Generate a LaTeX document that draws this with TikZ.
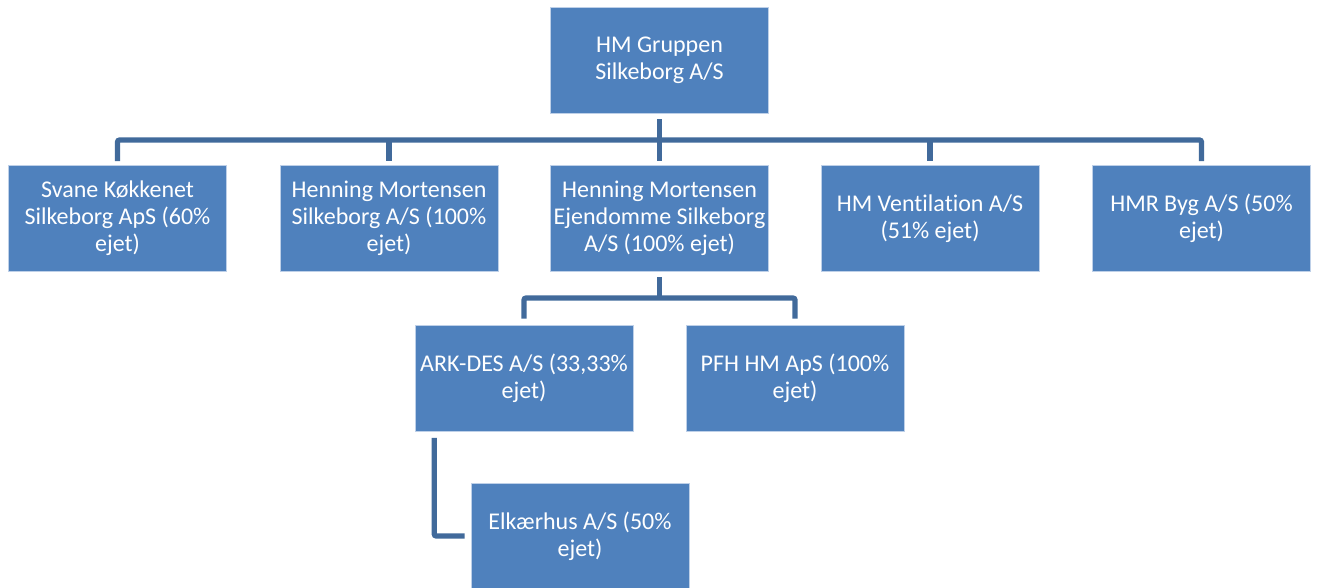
\documentclass[tikz,border=0pt]{standalone}
\usepackage{fontspec}
\setmainfont{Carlito}[Ligatures=CommonOff]
\definecolor{boxblue}{RGB}{79,129,189}
\definecolor{boxedge}{RGB}{190,208,232}
\definecolor{linkblue}{RGB}{65,106,155}
\tikzset{
  orgbox/.style={rectangle, fill=boxblue, draw=boxedge, line width=0.4pt,
    minimum width=163.5pt, minimum height=79.5pt, inner sep=0pt,
    text=white, align=center,
    font=\fontsize{18pt}{20.25pt}\selectfont},
  conn/.style={draw=linkblue, line width=3.9pt, rounded corners=1.5pt}
}
\begin{document}
\begin{tikzpicture}[x=0.75pt, y=-0.75pt]
\useasboundingbox (0,0) rectangle (1317,587);
\node[orgbox] (top) at (659.5,60) {HM Gruppen\\Silkeborg A/S};
\node[orgbox] (c1) at (117.5,218.5) {Svane Køkkenet\\Silkeborg ApS (60\%\\ejet)};
\node[orgbox] (c2) at (389,218.5) {Henning Mortensen\\Silkeborg A/S (100\%\\ejet)};
\node[orgbox] (c3) at (659.5,218.5) {Henning Mortensen\\Ejendomme Silkeborg\\A/S (100\% ejet)};
\node[orgbox] (c4) at (930,218.5) {HM Ventilation A/S\\(51\% ejet)};
\node[orgbox] (c5) at (1201.5,218.5) {HMR Byg A/S (50\%\\ejet)};
\node[orgbox] (ark) at (524,378) {ARK-DES A/S (33,33\%\\ejet)};
\node[orgbox] (pfh) at (795,378) {PFH HM ApS (100\%\\ejet)};
\node[orgbox] (elk) at (580,536) {Elkærhus A/S (50\%\\ejet)};
\coordinate (bar1) at (0,140);
\coordinate (bar2) at (0,298);
% level 1
\draw[conn] ([yshift=-4.5pt]top.south) -- ([yshift=3pt]c3.north);
\draw[conn] ([yshift=3pt]c1.north) -- (c1.north |- bar1) -- (c5.north |- bar1) -- ([yshift=3pt]c5.north);
\draw[conn] (c2.north |- bar1) -- ([yshift=3pt]c2.north);
\draw[conn] (c4.north |- bar1) -- ([yshift=3pt]c4.north);
% level 2
\draw[conn] ([yshift=-4pt]c3.south) -- (c3.south |- bar2);
\draw[conn] ([yshift=4.5pt]ark.north) -- (ark.north |- bar2) -- (pfh.north |- bar2) -- ([yshift=4.5pt]pfh.north);
% level 3
\draw[conn] ([xshift=14.6pt,yshift=-5pt]ark.south west) |- ([xshift=-4.5pt]elk.west);
\end{tikzpicture}
\end{document}
